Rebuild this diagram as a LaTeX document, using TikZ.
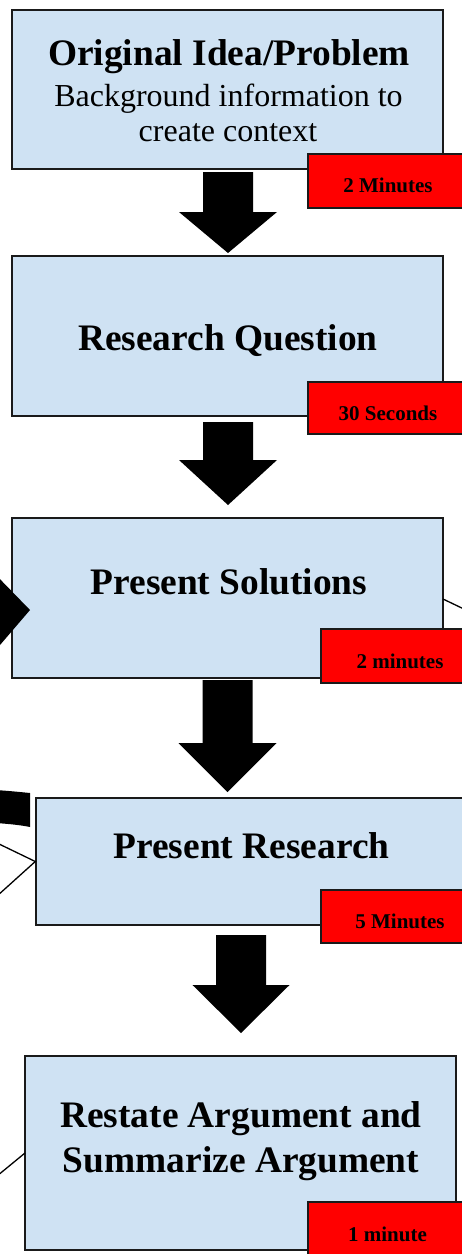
\documentclass[tikz,border=0pt]{standalone}
\usepackage{fontspec}
\setmainfont{Liberation Serif}
\definecolor{boxblue}{HTML}{CFE2F3}
\definecolor{edge}{HTML}{1A1A1A}
\newcommand{\myblockarrow}[6]{%
  \fill[black] (#1-#5,#2) -- (#1+#5,#2) -- (#1+#5,#3) -- (#1+#6,#3) -- (#1,#4) -- (#1-#6,#3) -- (#1-#5,#3) -- cycle;}
\begin{document}
\begin{tikzpicture}[x=1pt,y=-1pt,
  box/.style={draw=edge, line width=1.4pt, fill=boxblue, inner sep=0pt},
  redbox/.style={draw=edge, line width=1.4pt, fill=red, inner sep=0pt},
  ttl/.style={font=\fontsize{37.4}{41}\selectfont\bfseries, inner sep=0pt, anchor=base},
  sub/.style={font=\fontsize{32}{36}\selectfont, inner sep=0pt, anchor=base},
  tlab/.style={font=\fontsize{21}{24}\selectfont\bfseries, inner sep=0pt},
  thin/.style={draw=black, line width=1.3pt}]
\useasboundingbox (0,0) rectangle (462,1254);
% main boxes
\node[box, minimum width=431pt, minimum height=159pt] (b1) at (227.5,89.5) {};
\node[box, minimum width=431pt, minimum height=160pt] (b2) at (227.5,336) {};
\node[box, minimum width=431pt, minimum height=160pt] (b3) at (227.5,598) {};
\node[box, minimum width=439pt, minimum height=127pt] (b4) at (255.5,861.5) {};
\node[box, minimum width=431pt, minimum height=194pt] (b5) at (240.5,1153) {};
% texts
\node[ttl] (t1) at (229,65) {Original Idea/Problem};
\node[sub] (s1a) at (228.5,106) {Background information to};
\node[sub] (s1b) at (228,141) {create context};
\node[ttl] (t2) at (228,350) {Research Question};
\node[ttl] (t3) at (229,594) {Present Solutions};
\node[ttl] (t4) at (251.5,858) {Present Research};
\node[ttl] (t5a) at (241,1127) {Restate Argument and};
\node[ttl] (t5b) at (241,1172) {Summarize Argument};
% red time boxes
\node[redbox, minimum width=167pt, minimum height=54pt] (r1) at (391.5,181) {};
\node[redbox, minimum width=167pt, minimum height=52pt] (r2) at (391.5,408) {};
\node[redbox, minimum width=154pt, minimum height=54pt] (r3) at (398,656) {};
\node[redbox, minimum width=154pt, minimum height=53pt] (r4) at (398,916.5) {};
\node[redbox, minimum width=167pt, minimum height=60pt] (r5) at (391.5,1232) {};
\node[tlab] (l1) at (388,185.5) {2 Minutes};
\node[tlab] (l2) at (388,413) {30 Seconds};
\node[tlab] (l3) at (400,661) {2 minutes};
\node[tlab] (l4) at (400,921) {5 Minutes};
\node[tlab] (l5) at (387.5,1234) {1 minute};
% block arrows between boxes
\myblockarrow{228}{172}{212}{253}{25}{49}
\myblockarrow{228}{422}{460}{505}{25}{49}
\myblockarrow{227.5}{680}{743}{792}{25}{49}
\myblockarrow{241}{935}{985}{1033}{25}{48.5}
% partial shapes at the edges
\fill[black] (-6,573) -- (30,610) -- (-6,652) -- cycle;
\fill[black] (-4,790) .. controls (10,791) and (20,792) .. (30,793) -- (30,827) .. controls (20,825) and (10,824) .. (-4,823) -- cycle;
\coordinate (lA) at (-3,843);
\coordinate (lB) at (-3,896);
\draw[thin] (lA) -- (b4.west) -- (lB);
\coordinate (rA) at (466,610);
\draw[thin] (443,599) -- (rA);
\coordinate (bA) at (-3,1176);
\draw[thin] (bA) -- (25,1153);
\end{tikzpicture}
\end{document}
